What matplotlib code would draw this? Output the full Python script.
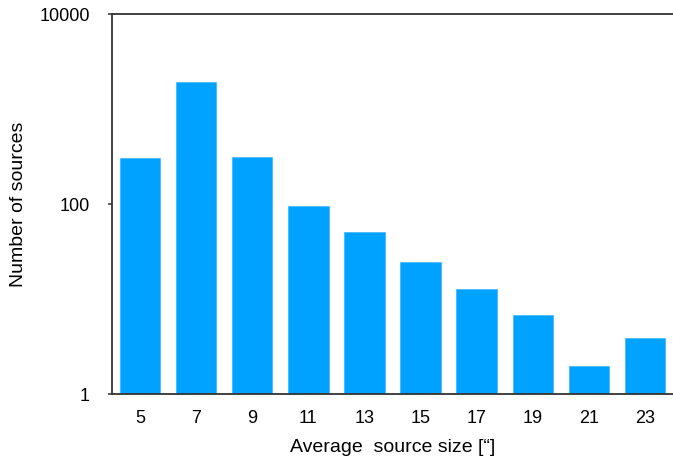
import numpy as np
import matplotlib.pyplot as plt

# data
sizes = ['5', '7', '9', '11', '13', '15', '17', '19', '21', '23']
counts = [310, 1940, 315, 96, 51, 24.7, 12.7, 6.9, 1.97, 3.9]
y_ticks = [1, 100, 10000]
y_tick_labels = ['1', '100', '10000']

plt.rcParams['font.family'] = ['Liberation Sans', 'DejaVu Sans']

fig = plt.figure(figsize=(6.73, 4.59), dpi=100)
ax = fig.add_axes([0.1664, 0.141, 0.8336, 0.828])

x = np.arange(len(sizes))
ax.bar(x, counts, width=0.72, color='#00A2FF', edgecolor='#3DB5FF', linewidth=0.5)

# log scale, bars start from 1
ax.set_yscale('log')
ax.set_ylim(1, 10000)
ax.set_xlim(-0.5, len(sizes) - 0.5)
ax.set_yticks(y_ticks)
ax.set_yticklabels(y_tick_labels)
ax.minorticks_off()
ax.set_xticks(x)
ax.set_xticklabels(sizes)

ax.tick_params(axis='y', length=3, width=1.1, color='#333333', labelsize=13, pad=13)
ax.tick_params(axis='x', length=0, labelsize=13, pad=11)

for side in ['left', 'bottom', 'top']:
    ax.spines[side].set_color('#333333')
    ax.spines[side].set_linewidth(1.3)
ax.spines['right'].set_visible(False)

ax.set_ylabel('Number of sources', fontsize=14, labelpad=9)
ax.set_xlabel('Average  source size [\u201c]', fontsize=14, labelpad=9)

fig.savefig('out.png', dpi=100)
